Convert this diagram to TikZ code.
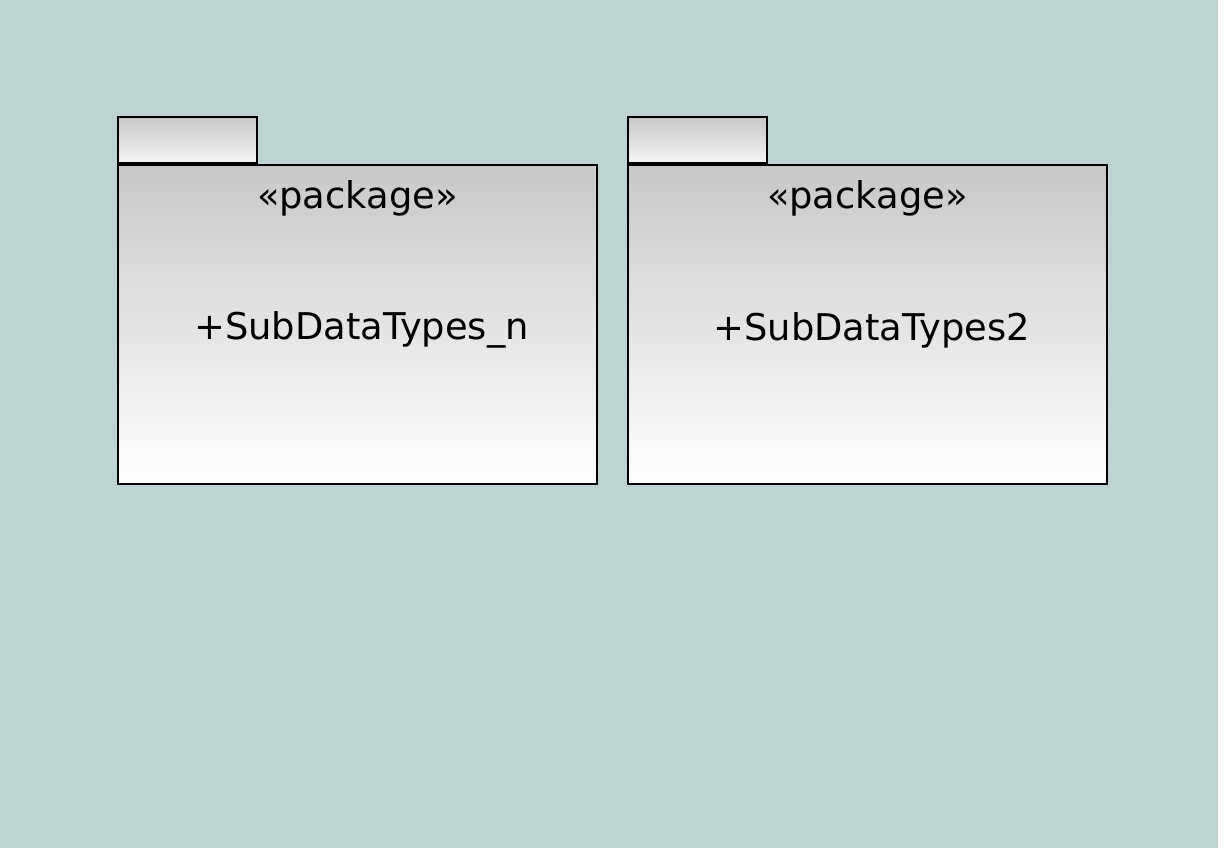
\documentclass[tikz,border=0pt]{standalone}
\usepackage{fontspec}
\setmainfont{DejaVu Sans}
\usetikzlibrary{positioning}
\definecolor{bgteal}{RGB}{191,211,210}
\definecolor{pkgtop}{RGB}{200,200,200}
\begin{document}
\begin{tikzpicture}[x=0.025cm,y=-0.025cm]

	\tikzstyle{pkgbody}=[draw,line width=1.2pt,rectangle,top color=pkgtop,bottom color=white,anchor=north west,inner sep=0pt,minimum width=479*0.025cm,minimum height=319*0.025cm]
	\tikzstyle{pkgtab}=[draw,line width=1.1pt,rectangle,top color=pkgtop,bottom color=white!96!black,anchor=south west,inner sep=0pt,minimum width=139*0.025cm,minimum height=46*0.025cm]
	\tikzstyle{stereo}=[font=\fontsize{26.2}{31}\selectfont]
	\tikzstyle{pkgname}=[font=\fontsize{26.2}{31}\selectfont]

	\useasboundingbox (0,0) rectangle (1231,861);
	\fill[white] (0,0) rectangle (1231,861);
	\fill[bgteal] (0,0) rectangle (1218,848);

	\node[pkgbody] (bodyn) at (117,164) {};
	\node[pkgtab] (tabn) at (bodyn.north west) {};
	\node[stereo,below=8pt of bodyn.north] (stereon) {«package»};
	\node[pkgname] (namen) at ([xshift=3pt,yshift=-4pt]bodyn.center) {+SubDataTypes\_n};

	\node[pkgbody] (bodytwo) at (627,164) {};
	\node[pkgtab] (tabtwo) at (bodytwo.north west) {};
	\node[stereo,below=8pt of bodytwo.north] (stereotwo) {«package»};
	\node[pkgname] (nametwo) at ([xshift=3pt,yshift=-4pt]bodytwo.center) {+SubDataTypes2};

\end{tikzpicture}
\end{document}
